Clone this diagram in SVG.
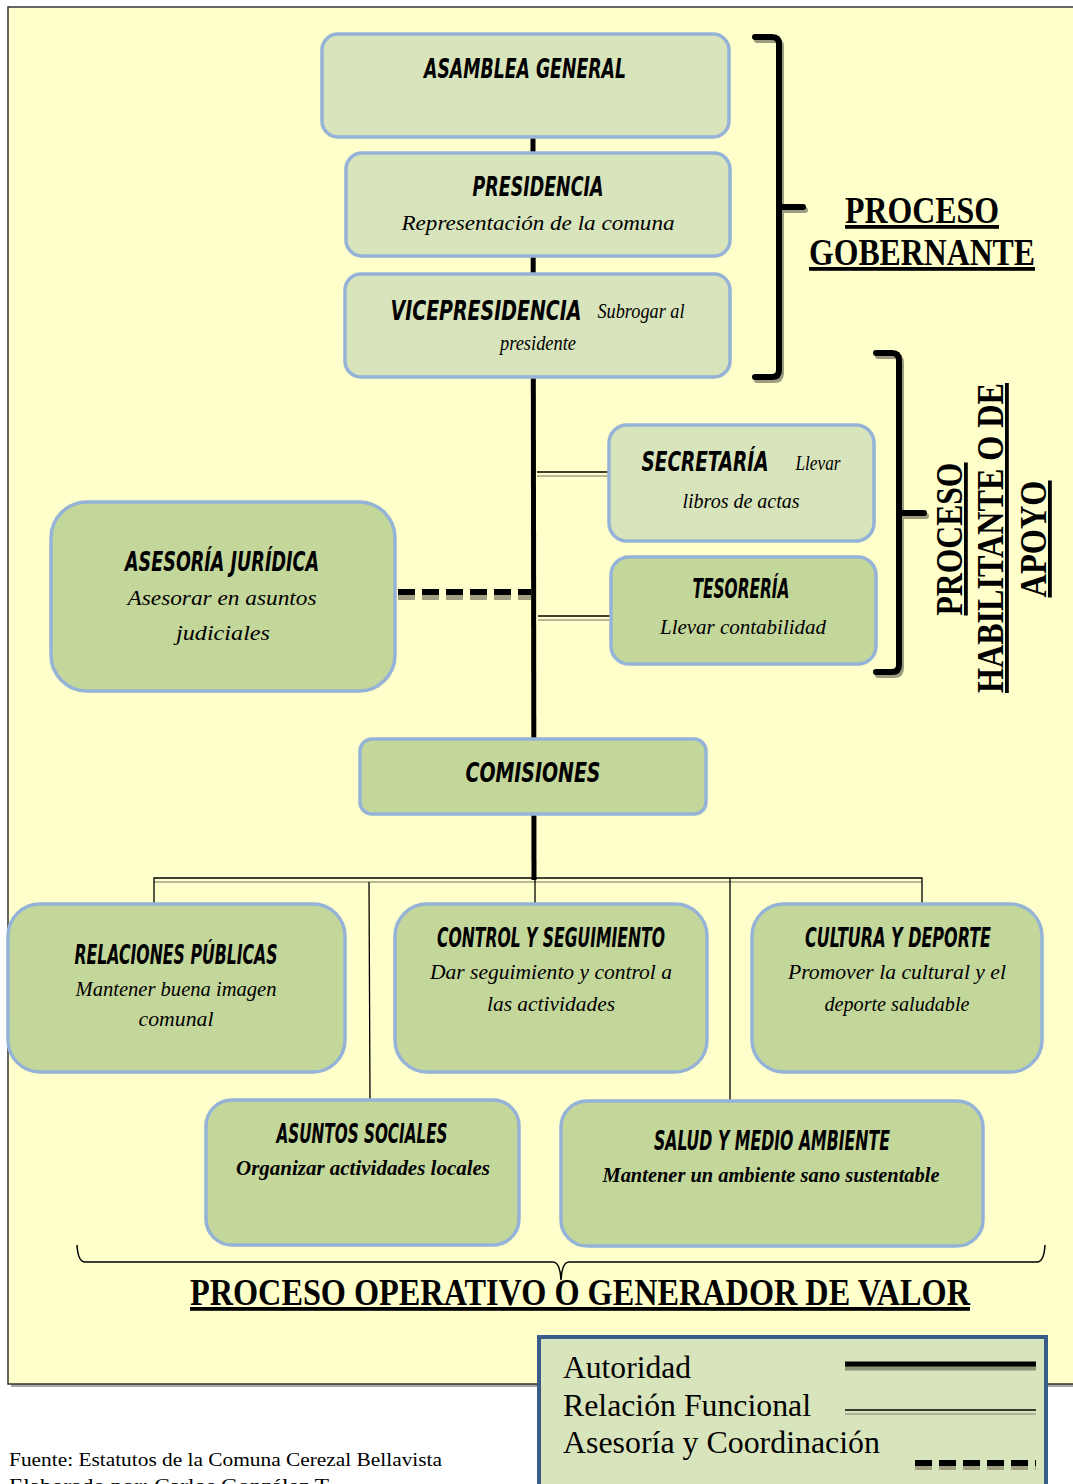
<svg xmlns="http://www.w3.org/2000/svg" width="1073" height="1484" viewBox="0 0 1073 1484">
<style>
.box{stroke:#95B3D7;stroke-width:3.5}
.lt{fill:#D8E4BC}
.dk{fill:#C4D79B}
.t{font-family:"Liberation Sans Narrow","DejaVu Sans Condensed","Liberation Sans",sans-serif;font-weight:bold;font-style:italic;font-size:27px;fill:#000;text-anchor:middle}
.s{font-family:"Liberation Serif","DejaVu Serif",serif;font-style:italic;font-size:22px;fill:#000;text-anchor:middle}
.big{font-family:"Liberation Serif","Times New Roman",serif;font-weight:bold;font-size:38px;fill:#000;text-anchor:middle;text-decoration:underline}
.leg{font-family:"Liberation Serif","Times New Roman",serif;font-size:31px;fill:#000}
.auth{stroke:#000;stroke-width:5;fill:none}
.thin{stroke:#000;stroke-width:1.3;fill:none}
.thing{stroke:#A0A088;stroke-width:1.3;fill:none}
.br{stroke:#000;stroke-width:6;fill:none;stroke-linecap:round;stroke-linejoin:round}
.brs{stroke:#9C9C80;stroke-width:6;fill:none;stroke-linecap:round;stroke-linejoin:round}
.dash{stroke:#000;stroke-width:6;stroke-dasharray:17 7;fill:none}
.dashs{stroke:#A0A080;stroke-width:6;stroke-dasharray:17 7;fill:none}
</style>
<rect x="0" y="0" width="1073" height="1484" fill="#FFFFFF"/>
<g id="frame">
<rect x="11" y="10" width="1065" height="1377" fill="#A8A8A8"/>
<rect x="8" y="7" width="1068" height="1377" fill="#FFFFCC" stroke="#333" stroke-width="1.5"/>
</g>
<g id="connectors">
<line class="auth" x1="533" y1="136" x2="534" y2="880"/>
<line class="thing" x1="537" y1="476" x2="609" y2="476"/>
<line class="thin" x1="537" y1="472" x2="609" y2="472"/>
<line class="thing" x1="538" y1="620" x2="611" y2="620"/>
<line class="thin" x1="538" y1="616" x2="611" y2="616"/>
<line class="dashs" x1="398" y1="597" x2="531" y2="597"/>
<line class="dash" x1="398" y1="592" x2="531" y2="592"/>
<line class="thing" x1="154" y1="882" x2="922" y2="882"/>
<path class="thin" d="M154,904 V878 H922 V904"/>
<line class="thin" x1="369" y1="882" x2="370" y2="1100"/>
<line class="thin" x1="535" y1="878" x2="535" y2="904"/>
<line class="thin" x1="730" y1="878" x2="730" y2="1101"/>
</g>
<g id="brackets">
<path class="brs" d="M757,40 L774,40 Q781,40 781,47 L781,373 Q781,380 774,380 L757,380 M781,210 L805,210"/>
<path class="br" d="M755,37 L772,37 Q779,37 779,44 L779,370 Q779,377 772,377 L755,377 M779,207 L803,207"/>
<path class="brs" d="M878,356 L894,356 Q901,356 901,363 L901,668 Q901,675 894,675 L878,675 M901,516 L926,516"/>
<path class="br" d="M876,353 L892,353 Q899,353 899,360 L899,665 Q899,672 892,672 L876,672 M899,513 L924,513"/>
<path fill="none" stroke="#000" stroke-width="1.5" d="M77,1245 Q78,1262 85,1262 L553,1262 Q560,1262 561,1280 Q562,1262 569,1262 L1037,1262 Q1044,1262 1045,1245"/>
</g>
<g id="asamblea">
<rect class="box lt" x="322" y="34" width="407" height="103" rx="16"/>
<text class="t" x="525" y="78" textLength="202" lengthAdjust="spacingAndGlyphs">ASAMBLEA GENERAL</text>
</g>
<g id="presidencia">
<rect class="box lt" x="346" y="153" width="384" height="103" rx="16"/>
<text class="t" x="538" y="196" textLength="131" lengthAdjust="spacingAndGlyphs">PRESIDENCIA</text>
<text class="s" x="538" y="230" textLength="273" lengthAdjust="spacingAndGlyphs">Representación de la comuna</text>
</g>
<g id="vicepresidencia">
<rect class="box lt" x="345" y="274" width="385" height="103" rx="16"/>
<text class="t" x="486" y="320" textLength="191" lengthAdjust="spacingAndGlyphs">VICEPRESIDENCIA</text>
<text class="s" x="641" y="318" font-size="19" textLength="87" lengthAdjust="spacingAndGlyphs">Subrogar al</text>
<text class="s" x="538" y="350" font-size="19" textLength="76" lengthAdjust="spacingAndGlyphs">presidente</text>
</g>
<g id="secretaria">
<rect class="box lt" x="609" y="425" width="265" height="116" rx="18"/>
<text class="t" x="705" y="471" textLength="127" lengthAdjust="spacingAndGlyphs">SECRETARÍA</text>
<text class="s" x="818" y="470" font-size="19" textLength="45" lengthAdjust="spacingAndGlyphs">Llevar</text>
<text class="s" x="741" y="508" font-size="19" textLength="117" lengthAdjust="spacingAndGlyphs">libros de  actas</text>
</g>
<g id="tesoreria">
<rect class="box dk" x="611" y="557" width="265" height="107" rx="18"/>
<text class="t" x="741" y="598" textLength="97" lengthAdjust="spacingAndGlyphs">TESORERÍA</text>
<text class="s" x="743" y="634" textLength="166" lengthAdjust="spacingAndGlyphs">Llevar contabilidad</text>
</g>
<g id="asesoria">
<rect class="box dk" x="51" y="502" width="344" height="189" rx="36"/>
<text class="t" x="222" y="571" textLength="194" lengthAdjust="spacingAndGlyphs">ASESORÍA JURÍDICA</text>
<text class="s" x="222" y="605" textLength="189" lengthAdjust="spacingAndGlyphs">Asesorar en asuntos</text>
<text class="s" x="223" y="640" textLength="94" lengthAdjust="spacingAndGlyphs">judiciales</text>
</g>
<g id="comisiones">
<rect class="box dk" x="360" y="739" width="346" height="75" rx="12"/>
<text class="t" x="533" y="782" textLength="135" lengthAdjust="spacingAndGlyphs">COMISIONES</text>
</g>
<g id="relaciones">
<rect class="box dk" x="8" y="904" width="337" height="168" rx="32"/>
<text class="t" x="176" y="964" textLength="203" lengthAdjust="spacingAndGlyphs">RELACIONES PÚBLICAS</text>
<text class="s" x="176" y="996" textLength="201" lengthAdjust="spacingAndGlyphs">Mantener buena imagen</text>
<text class="s" x="176" y="1026" textLength="75" lengthAdjust="spacingAndGlyphs">comunal</text>
</g>
<g id="control">
<rect class="box dk" x="395" y="904" width="312" height="168" rx="32"/>
<text class="t" x="551" y="947" textLength="228" lengthAdjust="spacingAndGlyphs">CONTROL Y SEGUIMIENTO</text>
<text class="s" x="551" y="979" textLength="242" lengthAdjust="spacingAndGlyphs">Dar seguimiento y control a</text>
<text class="s" x="551" y="1011" textLength="128" lengthAdjust="spacingAndGlyphs">las actividades</text>
</g>
<g id="cultura">
<rect class="box dk" x="752" y="904" width="290" height="168" rx="32"/>
<text class="t" x="898" y="947" textLength="186" lengthAdjust="spacingAndGlyphs">CULTURA Y DEPORTE</text>
<text class="s" x="897" y="979" textLength="218" lengthAdjust="spacingAndGlyphs">Promover la cultural y el</text>
<text class="s" x="897" y="1011" textLength="145" lengthAdjust="spacingAndGlyphs">deporte saludable</text>
</g>
<g id="asuntos">
<rect class="box dk" x="206" y="1100" width="313" height="145" rx="26"/>
<text class="t" x="362" y="1143" textLength="171" lengthAdjust="spacingAndGlyphs">ASUNTOS SOCIALES</text>
<text class="s" x="363" y="1175" font-weight="bold" textLength="254" lengthAdjust="spacingAndGlyphs">Organizar actividades locales</text>
</g>
<g id="salud">
<rect class="box dk" x="561" y="1101" width="422" height="145" rx="26"/>
<text class="t" x="772" y="1150" textLength="236" lengthAdjust="spacingAndGlyphs">SALUD Y MEDIO AMBIENTE</text>
<text class="s" x="771" y="1182" font-weight="bold" textLength="337" lengthAdjust="spacingAndGlyphs">Mantener un ambiente sano sustentable</text>
</g>
<g id="labels">
<text class="big" x="922" y="223" textLength="154" lengthAdjust="spacingAndGlyphs">PROCESO</text>
<text class="big" x="922" y="265" textLength="226" lengthAdjust="spacingAndGlyphs">GOBERNANTE</text>
<text class="big" transform="translate(962,539) rotate(-90)" x="0" y="0" textLength="153" lengthAdjust="spacingAndGlyphs">PROCESO</text>
<text class="big" transform="translate(1003,538) rotate(-90)" x="0" y="0" textLength="310" lengthAdjust="spacingAndGlyphs">HABILITANTE O DE</text>
<text class="big" transform="translate(1046,539) rotate(-90)" x="0" y="0" textLength="117" lengthAdjust="spacingAndGlyphs">APOYO</text>
<text class="big" x="580" y="1305" textLength="780" lengthAdjust="spacingAndGlyphs">PROCESO OPERATIVO O GENERADOR DE VALOR</text>
</g>
<g id="legend">
<rect x="539" y="1337" width="507" height="160" fill="#D8E4BC" stroke="#385D8A" stroke-width="4"/>
<text class="leg" x="563" y="1378" textLength="128" lengthAdjust="spacingAndGlyphs">Autoridad</text>
<text class="leg" x="563" y="1416" textLength="248" lengthAdjust="spacingAndGlyphs">Relación Funcional</text>
<text class="leg" x="563" y="1453" textLength="317" lengthAdjust="spacingAndGlyphs">Asesoría y Coordinación</text>
<line x1="845" y1="1368" x2="1036" y2="1368" stroke="#8C9477" stroke-width="5"/>
<line x1="845" y1="1364" x2="1036" y2="1364" stroke="#000" stroke-width="5"/>
<line class="thing" x1="845" y1="1414" x2="1036" y2="1414"/>
<line class="thin" x1="845" y1="1410" x2="1036" y2="1410"/>
<line class="dashs" x1="915" y1="1467" x2="1036" y2="1467"/>
<line class="dash" x1="915" y1="1463" x2="1036" y2="1463"/>
</g>
<g id="footnote">
<text x="9" y="1466" font-family="Liberation Serif,serif" font-size="19" textLength="433" lengthAdjust="spacingAndGlyphs">Fuente: Estatutos de la Comuna Cerezal Bellavista</text>
<text x="9" y="1492" font-family="Liberation Serif,serif" font-size="19" textLength="320" lengthAdjust="spacingAndGlyphs">Elaborado por: Carlos González T</text>
</g>
</svg>
